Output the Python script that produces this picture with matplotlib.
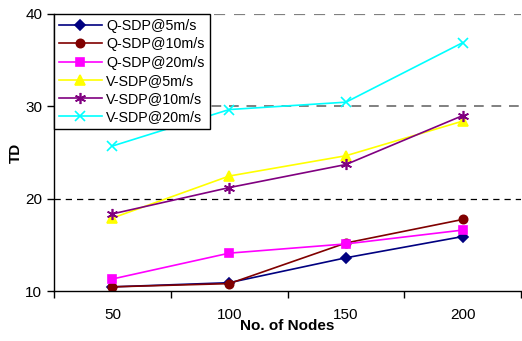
import matplotlib
matplotlib.use("Agg")
import matplotlib.pyplot as plt

plt.rcParams["font.family"] = ["Liberation Sans", "DejaVu Sans"]

nodes = ["50", "100", "150", "200"]
q_sdp_5 = [10.45, 10.9, 13.6, 15.9]
q_sdp_10 = [10.45, 10.8, 15.2, 17.75]
q_sdp_20 = [11.3, 14.1, 15.1, 16.6]
v_sdp_5 = [17.9, 22.45, 24.65, 28.4]
v_sdp_10 = [18.35, 21.2, 23.7, 29.0]
v_sdp_20 = [25.7, 29.65, 30.45, 36.9]

series = [
    ("Q-SDP@5m/s", q_sdp_5, "#000080", "D", 5),
    ("Q-SDP@10m/s", q_sdp_10, "#800000", "o", 6),
    ("Q-SDP@20m/s", q_sdp_20, "#ff00ff", "s", 6),
    ("V-SDP@5m/s", v_sdp_5, "#ffff00", "^", 7),
    ("V-SDP@10m/s", v_sdp_10, "#800080", (6, 2, 0), 8),
    ("V-SDP@20m/s", v_sdp_20, "#00ffff", "x", 7),
]

fig = plt.figure(figsize=(5.22, 3.41), dpi=100)
ax = fig.add_axes([0.1034, 0.1466, 0.895, 0.8124])

x = range(len(nodes))
for label, vals, color, marker, ms in series:
    ax.plot(x, vals, color=color, marker=marker, markersize=ms, linewidth=1.2,
            markeredgewidth=1.2, label=label)

# dashed gridlines like the original
ax.axhline(20, color="black", linestyle=(0, (5, 4)), linewidth=0.9, zorder=0)
ax.axhline(30, color="#808080", linestyle=(0, (5, 4)), linewidth=1.4, zorder=0)
ax.axhline(40, color="#808080", linestyle=(0, (5, 4)), linewidth=1.6, zorder=0)

ax.set_xlim(-0.5, 3.5)
ax.set_ylim(10, 40)
ax.set_yticks([10, 20, 30, 40])
ax.set_xticks(list(x))
ax.set_xticklabels(nodes)
ax.set_xticks([-0.5, 0.5, 1.5, 2.5, 3.5], minor=True)
ax.tick_params(axis="x", which="major", length=0, labelsize=11, pad=12)
ax.tick_params(axis="x", which="minor", length=5, width=1)
ax.tick_params(axis="y", length=5, width=1, labelsize=11)

for s in ["top", "right"]:
    ax.spines[s].set_visible(False)
ax.spines["left"].set_linewidth(1)
ax.spines["bottom"].set_linewidth(1)

ax.set_xlabel("No. of Nodes", fontsize=11, fontweight="bold", labelpad=-2)
ax.set_ylabel("TD", fontsize=11, fontweight="bold", labelpad=2)

leg = ax.legend(loc="upper left", bbox_to_anchor=(0.0, 1.0), fontsize=10.3,
                frameon=True, fancybox=False, edgecolor="black", framealpha=1,
                handlelength=3.0, labelspacing=0.3, borderpad=0.35,
                handletextpad=0.3, borderaxespad=0.0)
leg.get_frame().set_linewidth(1)

fig.savefig("out.png", dpi=100)
